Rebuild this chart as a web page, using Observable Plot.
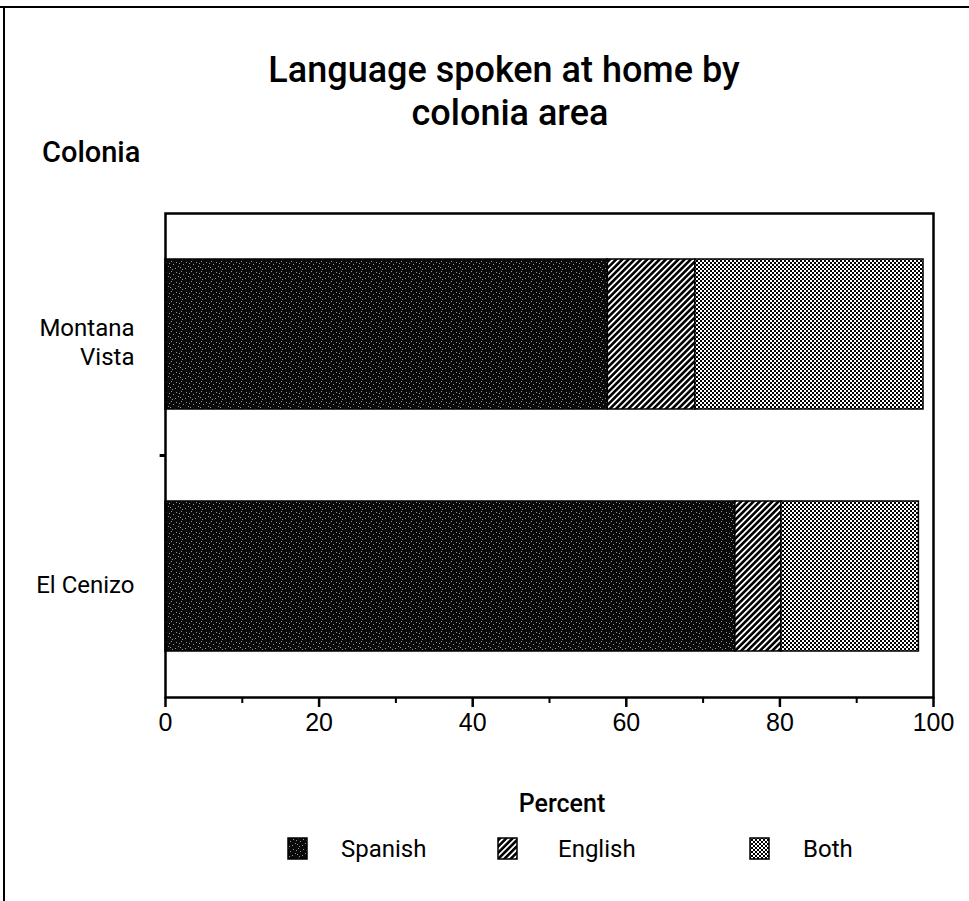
<!DOCTYPE html>
<html>
<head>
<meta charset="utf-8">
<script src="https://cdn.jsdelivr.net/npm/d3@7"></script>
<script src="https://cdn.jsdelivr.net/npm/@observablehq/plot@0.6"></script>
<style>
  html, body { margin: 0; padding: 0; background: #fff; }
  #page { position: relative; width: 969px; height: 901px; overflow: hidden; background: #fff; font-family: Roboto, sans-serif; color: #000; }
  .t { position: absolute; white-space: nowrap; line-height: 1; }
  .line { position: absolute; background: #000; }
  #chart { position: absolute; left: 0; top: 0; }
  .sw { position: absolute; }
</style>
</head>
<body>
<div id="page">
  <div class="line" style="left:0;top:6px;width:969px;height:2px"></div>
  <div class="line" style="left:3px;top:6px;width:2px;height:895px"></div>
  <div id="chart"></div>
</div>
<script>
// ---- data ----
const colonias = ["Montana Vista", "El Cenizo"];
const languages = ["Spanish", "English", "Both"];
const spanish = [57.6, 74.2];
const english = [11.4, 6.0];
const both = [29.7, 17.9];
const xTicks = [0, 20, 40, 60, 80, 100];
const xMinorTicks = [10, 30, 50, 70, 90];
const titleLines = ["Language spoken at home by", "colonia area"];
const yTitle = "Colonia";
const xTitle = "Percent";
const patternIds = ["pat-spanish", "pat-english", "pat-both"];

const values = {Spanish: spanish, English: english, Both: both};
const data = colonias.flatMap((c, i) => languages.map(l => ({colonia: c, language: l, value: values[l][i]})));

// ---- layout ----
const W = 969, H = 760;
const mTop = 213, mBottom = 63, mLeft = 165, mRight = 36;
const step = (H - mTop - mBottom) / 2;

const chart = Plot.plot({
  width: W,
  height: H,
  marginTop: mTop,
  marginBottom: mBottom,
  marginLeft: mLeft,
  marginRight: mRight,
  style: {background: "transparent", overflow: "visible"},
  x: {domain: [0, 100]},
  y: {domain: colonias, paddingInner: 0.38, paddingOuter: 0.19},
  color: {domain: languages, range: patternIds.map(id => `url(#${id})`)},
  marks: [
    Plot.barX(data, Plot.stackX({x: "value", y: "colonia", fill: "language", order: languages, stroke: "#000", strokeWidth: 1.5})),
    Plot.frame({stroke: "#000", strokeWidth: 2.5}),
    Plot.axisX({ticks: xTicks, tickSize: 10, tickPadding: 6, strokeWidth: 2.5, fontSize: 25, fontFamily: "Liberation Sans, Arial, sans-serif", fill: "#000", tickFormat: d => String(d), label: null}),
    Plot.axisX({ticks: xMinorTicks, tickSize: 6, strokeWidth: 2, tickFormat: () => "", label: null}),
    Plot.axisY({tickSize: 0, tickPadding: 31, fontSize: 24, fontFamily: "Roboto, sans-serif", fill: "#000", lineHeight: 1.2, dy: 7,
      tickFormat: d => d === "Montana Vista" ? "Montana\nVista" : d, label: null}),
    Plot.ruleY(colonias.slice(0, 1), {x1: -0.7, x2: 0, dy: step / 2, stroke: "#000", strokeWidth: 3})
  ]
});
document.getElementById("chart").appendChild(chart);

// patterns
function addPatterns(svg) {
  const defs = d3.select(svg).insert("defs", ":first-child");
  // Spanish: dark stipple
  const p1 = defs.append("pattern").attr("id", patternIds[0]).attr("patternUnits", "userSpaceOnUse").attr("width", 10).attr("height", 10);
  p1.append("rect").attr("width", 10).attr("height", 10).attr("fill", "#0a0a0a");
  [[1,1],[6,2],[3,4],[8,6],[0,7],[5,8],[9,3],[2,9]].forEach(([x, y]) =>
    p1.append("rect").attr("x", x).attr("y", y).attr("width", 1).attr("height", 1).attr("fill", "#fff").attr("opacity", 0.55));
  // English: diagonal hatch
  const p2 = defs.append("pattern").attr("id", patternIds[1]).attr("patternUnits", "userSpaceOnUse").attr("width", 4.4).attr("height", 10).attr("patternTransform", "rotate(45)");
  p2.append("rect").attr("width", 4.4).attr("height", 10).attr("fill", "#000");
  p2.append("rect").attr("width", 1.8).attr("height", 10).attr("fill", "#fff");
  // Both: checkerboard
  const p3 = defs.append("pattern").attr("id", patternIds[2]).attr("patternUnits", "userSpaceOnUse").attr("width", 4).attr("height", 4);
  p3.append("rect").attr("width", 4).attr("height", 4).attr("fill", "#fff");
  p3.append("rect").attr("width", 2).attr("height", 2).attr("fill", "#000");
  p3.append("rect").attr("x", 2).attr("y", 2).attr("width", 2).attr("height", 2).attr("fill", "#000");
}
addPatterns(chart);

// ---- texts ----
const page = document.getElementById("page");
function addText(str, {x, baseline, size, weight = "normal", anchor = "start", family = "Roboto, sans-serif"}) {
  const el = document.createElement("div");
  el.className = "t";
  el.textContent = str;
  el.style.fontSize = size + "px";
  el.style.fontWeight = weight;
  el.style.fontFamily = family;
  el.style.top = (baseline - 0.842 * size) + "px";
  el.style.left = x + "px";
  if (anchor === "middle") el.style.transform = "translateX(-50%)";
  page.appendChild(el);
  return el;
}
addText(titleLines[0], {x: 504, baseline: 82, size: 36, weight: 500, anchor: "middle"});
addText(titleLines[1], {x: 510, baseline: 125, size: 36, weight: 500, anchor: "middle"});
addText(yTitle, {x: 42, baseline: 162, size: 29, weight: 500});
addText(xTitle, {x: 562, baseline: 812, size: 25, weight: 500, anchor: "middle"});

// legend
const swX = [287, 497, 749];
const txX = [341, 558, 803];
languages.forEach((l, i) => {
  const s = d3.create("svg").attr("class", "sw").attr("width", 22).attr("height", 24)
    .style("left", swX[i] + "px").style("top", "837px");
  s.append("rect").attr("x", 1).attr("y", 1).attr("width", 19).attr("height", 21)
    .attr("fill", `url(#${patternIds[i]})`).attr("stroke", "#000").attr("stroke-width", 1.5);
  page.appendChild(s.node());
  addText(l, {x: txX[i], baseline: 857, size: 24});
});
</script>
</body>
</html>
